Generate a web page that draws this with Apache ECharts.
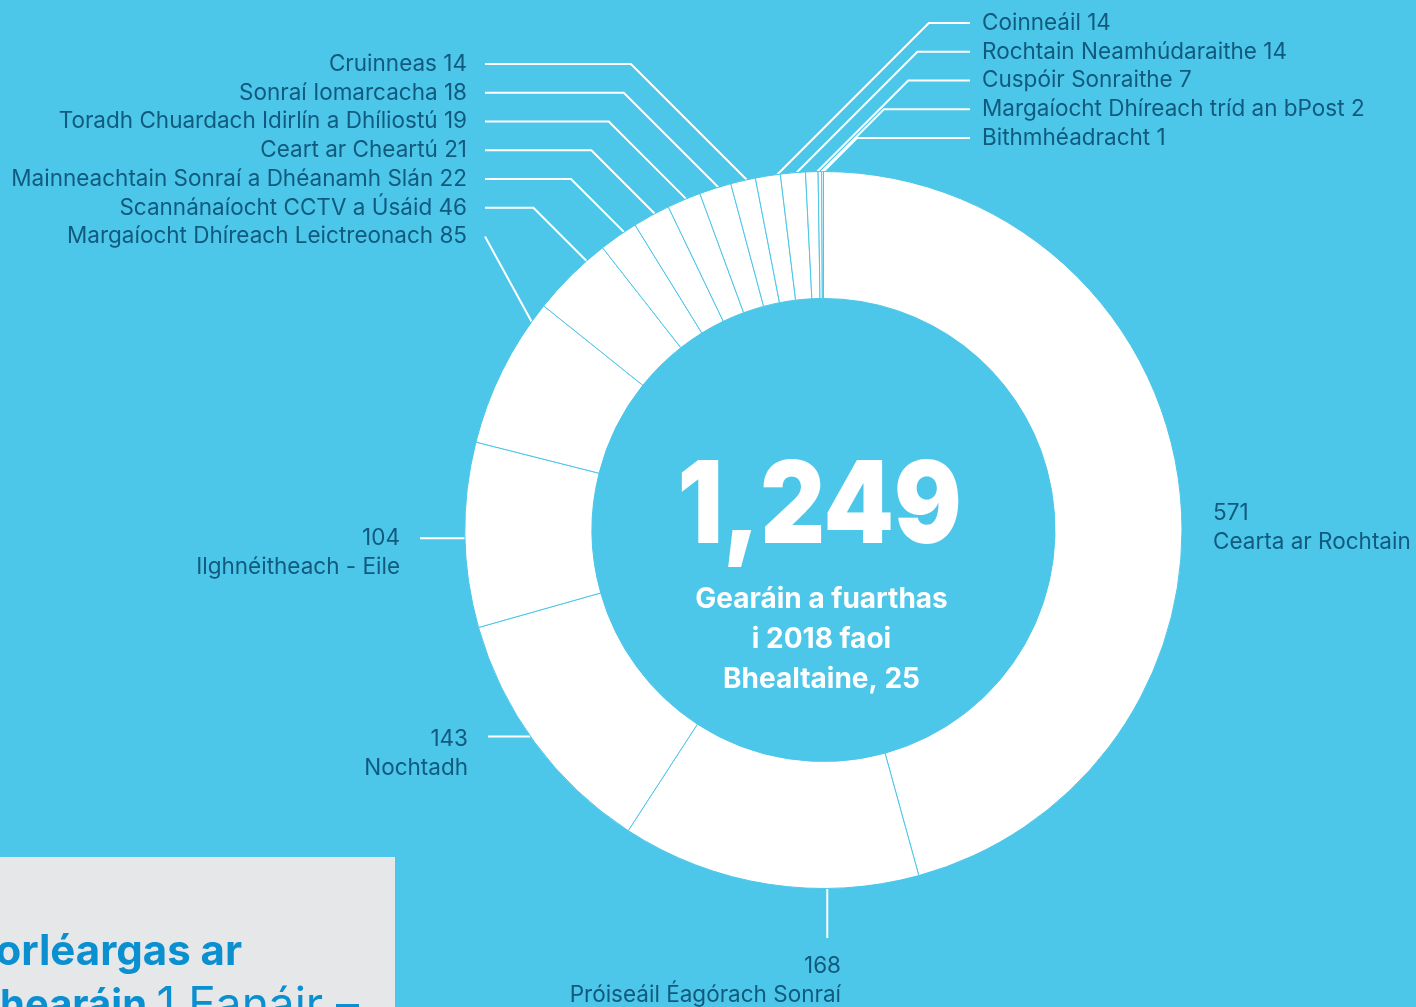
<!DOCTYPE html>
<html>
<head>
<meta charset="utf-8">
<script src="https://cdn.jsdelivr.net/npm/echarts@6/dist/echarts.min.js"></script>
<style>
html,body{margin:0;padding:0;background:#4cc7e9;}
#chart{width:1416px;height:1007px;}
</style>
</head>
<body>
<div id="chart"></div>
<script>
// ---- data ----
const categories = [
  'Cearta ar Rochtain',
  'Próiseáil Éagórach Sonraí',
  'Nochtadh',
  'Ilghnéitheach - Eile',
  'Margaíocht Dhíreach Leictreonach',
  'Scannánaíocht CCTV a Úsáid',
  'Mainneachtain Sonraí a Dhéanamh Slán',
  'Ceart ar Cheartú',
  'Toradh Chuardach Idirlín a Dhíliostú',
  'Sonraí Iomarcacha',
  'Cruinneas',
  'Coinneáil',
  'Rochtain Neamhúdaraithe',
  'Cuspóir Sonraithe',
  'Margaíocht Dhíreach tríd an bPost',
  'Bithmhéadracht'
];
const values = [571, 168, 143, 104, 85, 46, 22, 21, 19, 18, 14, 14, 14, 7, 2, 1];
const totalText = '1,249';
const captionLines = ['Gearáin a fuarthas', 'i 2018 faoi', 'Bhealtaine, 25'];
const panelTitle = 'Forléargas ar';
const panelSubBold = 'Ghearáin';
const panelSubRest = '1 Eanáir –';

// ---- layout / style config ----
const BG = '#4cc7e9';
const LABEL_COLOR = '#115a7e';
const FONT = 'Inter, "Noto Sans", sans-serif';
const CX = 823.5, CY = 530, R0 = 231.5, R = 358.5;
const LEFT_X = 467, LEFT_Y0 = 64, RIGHT_X = 982, RIGHT_Y0 = 23, STEP = 28.75;

const place = [
  {kind: 'block', x: 1213, y: 499, align: 'left'},
  {kind: 'block', x: 841, y: 952, align: 'right', line: 'down', anchor: 0.306, end: 938},
  {kind: 'block', x: 468, y: 725, align: 'right', line: 'across', anchor: 0.53, end: 488},
  {kind: 'block', x: 400, y: 524, align: 'right', line: 'across', anchor: 0.483, end: 420},
  {kind: 'left', slot: 6, anchor: 0.87},
  {kind: 'left', slot: 5, anchor: 0.75},
  {kind: 'left', slot: 4, anchor: 0.67},
  {kind: 'left', slot: 3, anchor: 0.6},
  {kind: 'left', slot: 2, anchor: 0.57},
  {kind: 'left', slot: 1, anchor: 0.6},
  {kind: 'left', slot: 0, anchor: 0.65},
  {kind: 'right', slot: 0, anchor: 0.88},
  {kind: 'right', slot: 1, anchor: 0.65},
  {kind: 'right', slot: 2, anchor: 0.93},
  {kind: 'right', slot: 3, anchor: 1},
  {kind: 'right', slot: 4, anchor: 1}
];

const chart = echarts.init(document.getElementById('chart'), null, {renderer: 'canvas'});

function anchorPoint(i, frac, fallback) {
  try {
    const lay = chart.getModel().getSeriesByIndex(0).getData().getItemLayout(i);
    const a = lay.startAngle + (lay.endAngle - lay.startAngle) * frac;
    return [lay.cx + lay.r * Math.cos(a), lay.cy + lay.r * Math.sin(a)];
  } catch (e) {
    return fallback;
  }
}

const data = categories.map((n, i) => {
  const item = {name: n, value: values[i]};
  if (place[i].kind === 'block' && !place[i].line) item.labelLine = {show: false};
  return item;
});

chart.setOption({
  backgroundColor: BG,
  animation: false,
  series: [{
    type: 'pie',
    center: [CX, CY],
    radius: [R0, R],
    startAngle: 90,
    clockwise: true,
    avoidLabelOverlap: false,
    emphasis: {disabled: true},
    itemStyle: {color: '#ffffff', borderColor: BG, borderWidth: 1},
    label: {
      show: true,
      position: 'outside',
      color: LABEL_COLOR,
      fontFamily: FONT,
      fontSize: 22.5,
      lineHeight: 29,
      formatter: p => place[p.dataIndex].kind === 'block'
        ? p.value + '\n' + p.name
        : p.name + ' ' + p.value
    },
    labelLine: {show: true, length: 10, length2: 10, lineStyle: {color: '#ffffff', width: 2}},
    labelLayout: function (params) {
      const i = params.dataIndex, p = place[i];
      const fb = params.labelLinePoints ? params.labelLinePoints[0] : [CX, CY - R];
      const [ax, ay] = anchorPoint(i, p.anchor == null ? 0.5 : p.anchor, fb);
      if (p.kind === 'left') {
        const ly = LEFT_Y0 + p.slot * STEP;
        const endX = LEFT_X + 18;
        const ex = Math.max(ax - (ay - ly), endX);
        return {x: LEFT_X, y: ly, align: 'right', verticalAlign: 'middle',
          labelLinePoints: [[ax, ay], [ex, ly], [endX, ly]]};
      }
      if (p.kind === 'right') {
        const ly = RIGHT_Y0 + p.slot * STEP;
        const endX = RIGHT_X - 12;
        const ex = Math.min(ax + (ay - ly), endX);
        return {x: RIGHT_X, y: ly, align: 'left', verticalAlign: 'middle',
          labelLinePoints: [[ax, ay], [ex, ly], [endX, ly]]};
      }
      const out = {x: p.x, y: p.y, align: p.align, verticalAlign: 'top'};
      if (p.line === 'across') out.labelLinePoints = [[ax, ay], [p.end, ay], [p.end, ay]];
      if (p.line === 'down') out.labelLinePoints = [[ax, ay], [ax, p.end], [ax, p.end]];
      return out;
    },
    data: data
  }],
  graphic: [
    {type: 'text', x: CX - 4, y: 509, scaleX: 0.88,
      style: {text: totalText, fill: '#ffffff', fontFamily: FONT, fontWeight: 900, fontSize: 114,
        align: 'center', verticalAlign: 'middle'}},
    {type: 'text', x: CX - 2, y: 580,
      style: {text: captionLines.join('\n'), fill: '#ffffff', fontFamily: FONT, fontWeight: 'bold',
        fontSize: 28, lineHeight: 40, align: 'center', verticalAlign: 'top'}},
    {type: 'rect', shape: {x: 0, y: 857, width: 395, height: 160}, style: {fill: '#e6e7e8'}},
    {type: 'text', x: -28, y: 952,
      style: {text: panelTitle, fill: '#0a8fd0', fontFamily: FONT, fontWeight: 'bold', fontSize: 42,
        align: 'left', verticalAlign: 'middle'}},
    {type: 'text', x: -30, y: 1006,
      style: {text: '{b|' + panelSubBold + ' }{r|' + panelSubRest + '}',
        rich: {
          b: {fill: '#0a8fd0', color: '#0a8fd0', fontFamily: FONT, fontWeight: 'bold', fontSize: 40},
          r: {fill: '#0a8fd0', color: '#0a8fd0', fontFamily: FONT, fontWeight: 'normal', fontSize: 46}
        },
        align: 'left', verticalAlign: 'middle'}}
  ]
});
</script>
</body>
</html>
